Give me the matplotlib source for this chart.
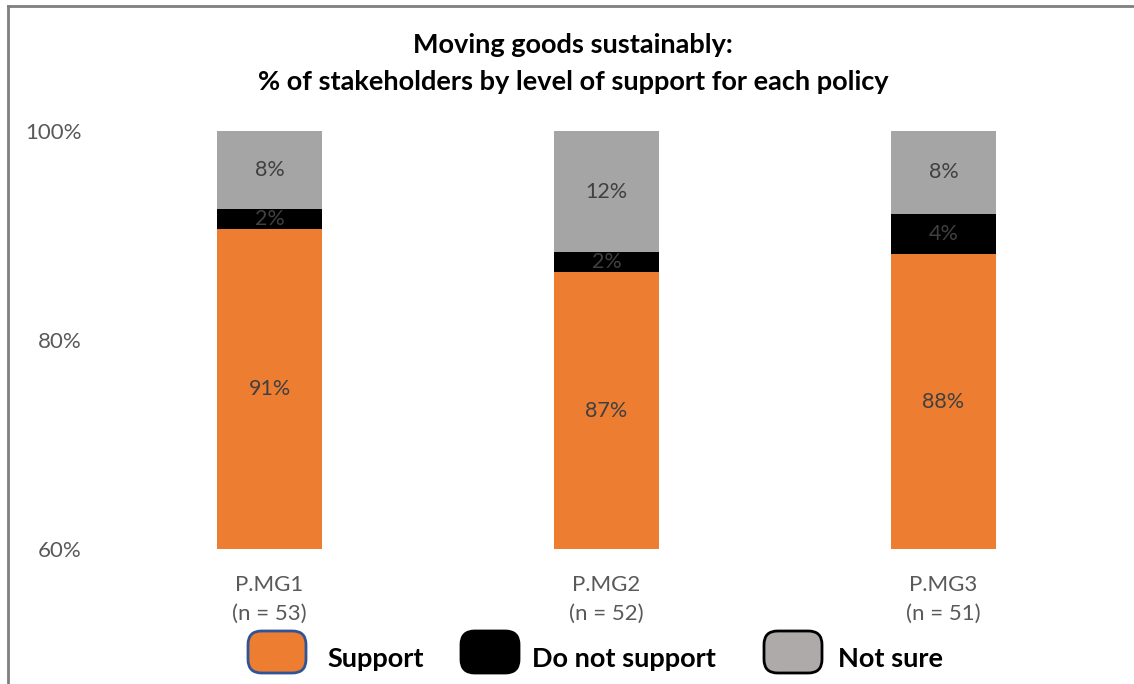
import matplotlib
matplotlib.use("Agg")
import matplotlib.pyplot as plt
from matplotlib.patches import FancyBboxPatch
from matplotlib.lines import Line2D

plt.rcParams['font.family'] = ['Lato', 'DejaVu Sans']

# Policies and respondent counts
policies = ["P.MG1", "P.MG2", "P.MG3"]
respondents = [53, 52, 51]

# Share of stakeholders (%) per level of support
support = [90.6, 86.5, 88.2]
do_not_support = [1.9, 1.9, 3.9]
not_sure = [7.5, 11.6, 7.9]

# Rounded labels shown in the bars
support_lbl = [91, 87, 88]
do_not_lbl = [2, 2, 4]
not_sure_lbl = [8, 12, 8]

y_ticks = [60, 80, 100]
series_names = ["Support", "Do not support", "Not sure"]

c_support = "#ED7D31"
c_do_not = "#000000"
c_not_sure = "#A5A5A5"
txt_color = "#404040"
tick_color = "#595959"

W, H = 1134, 684
fig = plt.figure(figsize=(W / 100, H / 100), dpi=100)
ax = fig.add_axes([101 / W, 1 - 549 / H, (1112 - 101) / W, (549 - 131) / H])

x = list(range(len(policies)))
bw = 0.31
ax.bar(x, support, width=bw, color=c_support, bottom=0)
ax.bar(x, do_not_support, width=bw, color=c_do_not, bottom=support)
bottom3 = [s + d for s, d in zip(support, do_not_support)]
ax.bar(x, not_sure, width=bw, color=c_not_sure, bottom=bottom3)

for i in x:
    ax.text(i, 60 + (support[i] - 60) / 2, f"{support_lbl[i]}%", ha="center",
            va="center", color=txt_color, fontsize=15.5)
    ax.text(i, support[i] + do_not_support[i] / 2, f"{do_not_lbl[i]}%", ha="center",
            va="center", color=txt_color, fontsize=15.5)
    ax.text(i, bottom3[i] + not_sure[i] / 2, f"{not_sure_lbl[i]}%", ha="center",
            va="center", color=txt_color, fontsize=15.5)

ax.set_ylim(60, 100)
ax.set_xlim(-0.5, len(policies) - 0.5)
ax.set_yticks(y_ticks)
ax.set_yticklabels([f"{t}%" for t in y_ticks])
ax.set_xticks(x)
ax.set_xticklabels([f"{p}\n(n = {n})" for p, n in zip(policies, respondents)],
                   linespacing=1.5)
ax.tick_params(axis="both", length=0, colors=tick_color, labelsize=16)
ax.tick_params(axis="y", pad=14)
ax.tick_params(axis="x", pad=19)
for sp in ax.spines.values():
    sp.set_visible(False)

fig.text(573 / W, 1 - 45 / H, "Moving goods sustainably:", ha="center", va="center",
         fontsize=19.5, fontweight="bold", color="black")
fig.text(573 / W, 1 - 82 / H, "% of stakeholders by level of support for each policy",
         ha="center", va="center", fontsize=19.5, fontweight="bold", color="black")

# Legend with rounded swatches
legend_items = [
    (248, c_support, "#2F5597", 327),
    (461, c_do_not, "#000000", 532),
    (764, "#AEAAAA", "#000000", 838),
]
for (bx, face, edge, tx), name in zip(legend_items, series_names):
    patch = FancyBboxPatch((bx / W, 1 - 673 / H), 58 / W, 42 / H,
                           boxstyle="round,pad=0,rounding_size=0.012",
                           transform=fig.transFigure, facecolor=face,
                           edgecolor=edge, linewidth=2, mutation_aspect=W / H)
    fig.patches.append(patch)
    fig.text(tx / W, 1 - 659 / H, name, ha="left", va="center", fontsize=19.5,
             fontweight="bold", color="black")

# Frame lines along top and left
fig.add_artist(Line2D([8 / W, 1], [1 - 5.5 / H, 1 - 5.5 / H], transform=fig.transFigure,
                      color="#7F7F7F", linewidth=2))
fig.add_artist(Line2D([8 / W, 8 / W], [0, 1 - 5.5 / H], transform=fig.transFigure,
                      color="#7F7F7F", linewidth=2))

fig.savefig("out.png", dpi=100, facecolor="white")
